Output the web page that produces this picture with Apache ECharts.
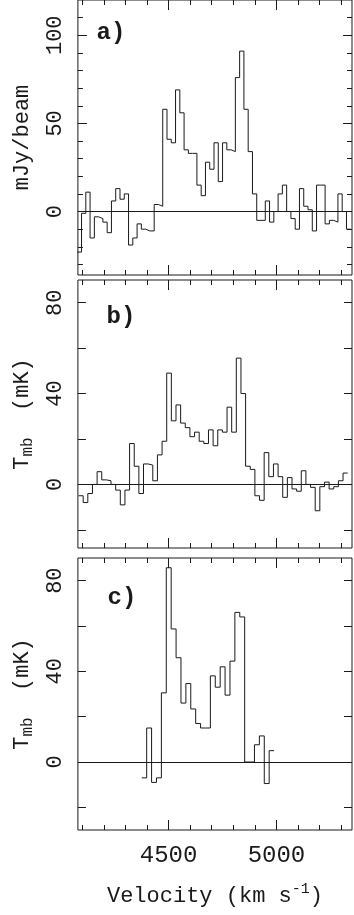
<!DOCTYPE html>
<html>
<head>
<meta charset="utf-8">
<script src="https://cdn.jsdelivr.net/npm/echarts@6/dist/echarts.min.js"></script>
<style>
html, body { margin: 0; padding: 0; background: #fff; }
#chart { width: 354px; height: 915px; }
</style>
</head>
<body>
<div id="chart"></div>
<script>
// channel grids (first channel left edge, channel width in km/s)
var velStartA = 4077, chanA = 19.8;
var velStartB = 4083, chanB = 21.5;
var velStartC = 4376, chanC = 22.7;

// a) mJy/beam
var fluxA = [-23, -1, 11, -15, -3, -4, -6, -12, 6, 13, 7, 10, -19, -15, -7, -10, -11, -11, 4, 3,
  58, 41, 39, 69, 56, 35, 33, 33, 15, 9, 28, 24, 39, 17, 39, 35, 34, 76, 91, 58, 34, 10,
  -5, -5, 6, -6, 0, 10, 15, 0, -4, -10, 13, 3, 1, -11, 15, 15, -7, -5, -6, 10, 0, -10];
// b) Tmb (mK)
var tmbB = [-5, -8, -4, 0, 5.6, 2, 1.6, 0, -2.5, -9,
  -2.5, 18, 8, -4, 9, 8.5, 1.6, 13, 19, 49,
  28, 35, 27, 25, 21, 23, 19, 18, 24, 17,
  24, 23, 34, 23, 55.6, 40, 8, 6.6, -5, -7,
  14, 3.4, 9, 3.4, -5.7, 3, -2, -3, 6, 0,
  -1.3, -11.6, -1, 1, -2, -1, 1.6, 5];
// c) Tmb (mK)
var tmbC = [-7, 15, -9, -7, 30.5, 85.7, 58.7, 46, 26, 34.6, 23.4, 17, 15, 15,
  38, 33, 42, 29.5, 44.5, 66, 64, 0, 0, 7.6, 11.5, -9.5, 5];

// ticks
var velTicks = [4100, 4200, 4300, 4400, 4500, 4600, 4700, 4800, 4900, 5000, 5100, 5200, 5300];
var velLabels = [4500, 5000];
var yTicksA = [-30, -20, -10, 0, 10, 20, 30, 40, 50, 60, 70, 80, 90, 100, 110];
var yLabelsA = [0, 50, 100];
var yTicksBC = [-20, 0, 20, 40, 60, 80];
var yLabelsBC = [0, 40, 80];

var INK = '#1a1a1a';
var FONT = '"Liberation Mono", "DejaVu Sans Mono", monospace';

// histogram: left edges + closing right edge
function steps(v0, dv, vals) {
  var d = vals.map(function (y, i) { return [v0 + i * dv, y]; });
  d.push([v0 + vals.length * dv, vals[vals.length - 1]]);
  return d;
}

var panels = [
  { top: -2, height: 277, min: -36, max: 120, ticks: yTicksA, major: yLabelsA, labels: yLabelsA,
    data: steps(velStartA, chanA, fluxA), name: 'mJy/beam', nameGap: 33 },
  { top: 280, height: 268, min: -28, max: 90, ticks: yTicksBC, major: null, labels: yLabelsBC,
    data: steps(velStartB, chanB, tmbB), name: '{t|T}{s|mb}{t|  (mK)}', nameGap: 34 },
  { top: 558, height: 272, min: -30, max: 90, ticks: yTicksBC, major: null, labels: yLabelsBC,
    data: steps(velStartC, chanC, tmbC), name: '{t|T}{s|mb}{t|  (mK)}', nameGap: 34 }
];

var grids = [], xAxes = [], yAxes = [], series = [];

function plain(v) { return String(v); }

function tickAxis(gi, pos, min, max, ticks, len) {
  return {
    gridIndex: gi, type: 'value', position: pos, min: min, max: max,
    axisLine: { show: false, onZero: false },
    splitLine: { show: false },
    axisTick: { show: true, inside: true, length: len, customValues: ticks,
      lineStyle: { color: INK, width: 1 } },
    axisLabel: { show: false }
  };
}

panels.forEach(function (p, gi) {
  grids.push({ left: 75.5, right: 2, top: p.top, height: p.height,
    show: true, borderColor: INK, borderWidth: 1 });

  var xi = xAxes.length, yi = yAxes.length;
  ['bottom', 'top'].forEach(function (pos) {
    xAxes.push(tickAxis(gi, pos, 4080, 5350, velTicks, 5));
    var big = tickAxis(gi, pos, 4080, 5350, velLabels, 10);
    if (pos === 'bottom' && gi === 2) {
      big.axisLabel = { show: true, customValues: velLabels, margin: 14, formatter: plain,
        fontFamily: FONT, fontSize: 24, color: INK };
      big.name = 'Velocity (km s{sup|-1})';
      big.nameLocation = 'middle';
      big.nameGap = 52;
      big.nameTextStyle = { fontFamily: FONT, fontSize: 22, color: INK, lineHeight: 28,
        rich: { sup: { fontFamily: FONT, fontSize: 15, lineHeight: 14, verticalAlign: 'top', color: INK } } };
    }
    xAxes.push(big);
  });

  ['left', 'right'].forEach(function (pos) {
    var ax = tickAxis(gi, pos, p.min, p.max, p.ticks, p.major ? 5 : 8);
    if (pos === 'left') {
      ax.axisLabel = { show: true, customValues: p.labels, rotate: 90, margin: 12, formatter: plain,
        fontFamily: FONT, fontSize: 22, color: INK };
      ax.name = p.name;
      ax.nameLocation = 'middle';
      ax.nameRotate = 90;
      ax.nameGap = p.nameGap;
      ax.nameTextStyle = { fontFamily: FONT, fontSize: 22, color: INK, lineHeight: 28,
        rich: {
          t: { fontFamily: FONT, fontSize: 22, lineHeight: 28, verticalAlign: 'middle', color: INK },
          s: { fontFamily: FONT, fontSize: 16, lineHeight: 14, verticalAlign: 'bottom', color: INK }
        } };
    }
    yAxes.push(ax);
    if (p.major) yAxes.push(tickAxis(gi, pos, p.min, p.max, p.major, 9));
  });

  series.push({
    type: 'line', xAxisIndex: xi, yAxisIndex: yi, data: p.data,
    step: 'end', showSymbol: false, silent: true,
    lineStyle: { color: INK, width: 1 },
    markLine: { silent: true, symbol: 'none', label: { show: false },
      lineStyle: { color: INK, width: 1, type: 'solid' },
      data: [{ yAxis: 0 }] }
  });
});

var chart = echarts.init(document.getElementById('chart'));
chart.setOption({
  animation: false,
  backgroundColor: '#fff',
  grid: grids,
  xAxis: xAxes,
  yAxis: yAxes,
  series: series,
  graphic: [
    { type: 'text', x: 111, y: 33, style: { text: 'a)', fontFamily: FONT, fontSize: 24, fontWeight: 'bold', fill: INK, align: 'center', verticalAlign: 'middle' } },
    { type: 'text', x: 121, y: 317, style: { text: 'b)', fontFamily: FONT, fontSize: 24, fontWeight: 'bold', fill: INK, align: 'center', verticalAlign: 'middle' } },
    { type: 'text', x: 122, y: 598, style: { text: 'c)', fontFamily: FONT, fontSize: 24, fontWeight: 'bold', fill: INK, align: 'center', verticalAlign: 'middle' } }
  ]
});
</script>
</body>
</html>
